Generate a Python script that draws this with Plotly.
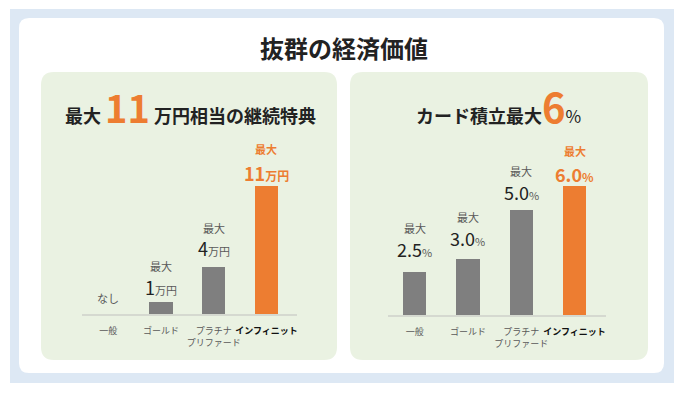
import plotly.graph_objects as go

# ---- data ----
categories = ["一般", "ゴールド", "プラチナプリファード", "インフィニット"]
tick_labels = ["一般", "ゴールド", "プラチナ<br>プリファード", "インフィニット"]
benefit_values = [0, 1, 4, 11]          # 万円
benefit_labels = ["なし", "1", "4", "11"]
benefit_unit = "万円"
points_values = [2.5, 3.0, 5.0, 6.0]    # %
points_labels = ["2.5", "3.0", "5.0", "6.0"]
points_unit = "%"
prefix = "最大"

main_title = "抜群の経済価値"
left_title = ("最大", "11", "万円相当の継続特典")
right_title = ("カード積立最大", "6", "%")

# ---- styles ----
W, H = 687, 393
FONT = "Noto Sans CJK JP"
ORANGE = "#ED7D31"
GRAY_BAR = "#7F7F7F"
BLUE_BG = "#DDE8F4"
GREEN_BG = "#EAF2E2"
TXT = "#222222"
LBL = "#595959"
# label offsets above the bar tops (px): (value line, prefix line)
LEFT_GAPS = [(16, 0), (15, 36), (19, 39), (13, 37)]
RIGHT_GAPS = [(23, 44), (21, 42), (18, 39), (12, 35)]

def fx(x):
    return x / W

def fy(y):
    return 1 - y / H

def rrect(x0, y0, x1, y1, r, color):
    pts = [
        ("M", [(x0 + r, y0)]), ("L", [(x1 - r, y0)]), ("Q", [(x1, y0), (x1, y0 + r)]),
        ("L", [(x1, y1 - r)]), ("Q", [(x1, y1), (x1 - r, y1)]), ("L", [(x0 + r, y1)]),
        ("Q", [(x0, y1), (x0, y1 - r)]), ("L", [(x0, y0 + r)]), ("Q", [(x0, y0), (x0 + r, y0)]),
    ]
    path = ""
    for cmd, ps in pts:
        path += cmd + " " + " ".join(f"{fx(a):.5f},{fy(b):.5f}" for a, b in ps) + " "
    path += "Z"
    return dict(type="path", xref="paper", yref="paper", path=path,
                fillcolor=color, line=dict(width=0), layer="below")

fig = go.Figure()

bar_colors = [GRAY_BAR, GRAY_BAR, GRAY_BAR, ORANGE]

fig.add_trace(go.Bar(x=categories, y=benefit_values, marker=dict(color=bar_colors, line=dict(width=0)),
                     width=0.44, xaxis="x", yaxis="y", hoverinfo="skip", showlegend=False))
fig.add_trace(go.Bar(x=categories, y=points_values, marker=dict(color=bar_colors, line=dict(width=0)),
                     width=0.44, xaxis="x2", yaxis="y2", hoverinfo="skip", showlegend=False))

ticktext = []
for i, t in enumerate(tick_labels):
    if i == len(tick_labels) - 1:
        ticktext.append(f"<span style='color:#111111'><b>{t}</b></span>")
    else:
        ticktext.append(t)

xcommon = dict(type="category", categoryorder="array", categoryarray=categories,
               tickvals=categories, ticktext=ticktext, showline=True, linecolor="#D5D9D0",
               linewidth=2, showgrid=False, zeroline=False, ticks="", ticklabelstandoff=7,
               tickangle=0, automargin=False,
               tickfont=dict(family=FONT, size=9, color=LBL), fixedrange=True)

fig.update_layout(
    width=W, height=H, margin=dict(l=0, r=0, t=0, b=0),
    paper_bgcolor="white", plot_bgcolor="rgba(0,0,0,0)",
    font=dict(family=FONT),
    bargap=0,
    xaxis=dict(domain=[fx(82), fx(297)], range=[-0.5, 3.58], anchor="y", **xcommon),
    yaxis=dict(domain=[fy(314), fy(140)], range=[0, 174 / 11.65], visible=False, anchor="x"),
    xaxis2=dict(domain=[fx(388), fx(606)], range=[-0.5, 3.59], anchor="y2", **xcommon),
    yaxis2=dict(domain=[fy(315), fy(140)], range=[0.73, 0.73 + 175 / 24.5], visible=False, anchor="x2"),
    shapes=[
        dict(type="rect", xref="paper", yref="paper", x0=fx(10), x1=fx(674), y0=fy(383), y1=fy(9),
             fillcolor=BLUE_BG, line=dict(width=0), layer="below"),
        rrect(19, 18, 664, 373, 10, "white"),
        rrect(41, 72, 337, 360, 13, GREEN_BG),
        rrect(350, 72, 648, 360, 13, GREEN_BG),
    ],
)

ann = []
# main title
ann.append(dict(xref="paper", yref="paper", x=fx(344), y=fy(47), xanchor="center", yanchor="middle",
                text=f"<b>{main_title}</b>", showarrow=False,
                font=dict(family=FONT, size=24, color=TXT)))
# left panel title
ann.append(dict(xref="paper", yref="paper", x=fx(190), y=fy(106), xanchor="center", yanchor="middle",
                text=(f"<b>{left_title[0]} </b><b><span style='font-size:38px;color:{ORANGE}'>{left_title[1]}</span></b>"
                      f"<b> {left_title[2]}</b>"),
                showarrow=False, font=dict(family=FONT, size=18, color=TXT)))
# right panel title
ann.append(dict(xref="paper", yref="paper", x=fx(499), y=fy(106), xanchor="center", yanchor="middle",
                text=(f"<b>{right_title[0]}</b><b><span style='font-size:40px;color:{ORANGE}'>{right_title[1]}</span></b>"
                      f"<span style='font-size:17px'>{right_title[2]}</span>"),
                showarrow=False, font=dict(family=FONT, size=18, color=TXT)))

def bar_labels(xr, yr, vals, labels, unit, base, gaps):
    n = len(vals)
    for i, (c, v, lab) in enumerate(zip(categories, vals, labels)):
        last = i == n - 1
        col = ORANGE if last else TXT
        y = max(v, base)
        g_val, g_pre = gaps[i]
        if v == 0:
            ann.append(dict(xref=xr, yref=yr, x=c, y=y, yshift=g_val, xanchor="center", yanchor="middle",
                            text=lab, showarrow=False, font=dict(family=FONT, size=11, color=LBL)))
            continue
        if last:
            vtxt = f"<b>{lab}<span style='font-size:12px'>{unit}</span></b>"
            ptxt = f"<b>{prefix}</b>"
            pcol = ORANGE
        else:
            vtxt = f"{lab}<span style='font-size:11px;color:{LBL}'>{unit}</span>"
            ptxt = prefix
            pcol = LBL
        ann.append(dict(xref=xr, yref=yr, x=c, y=y, yshift=g_val, xanchor="center", yanchor="middle",
                        text=vtxt, showarrow=False, font=dict(family=FONT, size=18, color=col)))
        ann.append(dict(xref=xr, yref=yr, x=c, y=y, yshift=g_pre, xanchor="center", yanchor="middle",
                        text=ptxt, showarrow=False, font=dict(family=FONT, size=11, color=pcol)))

bar_labels("x", "y", benefit_values, benefit_labels, benefit_unit, 0, LEFT_GAPS)
bar_labels("x2", "y2", points_values, points_labels, points_unit, 0.73, RIGHT_GAPS)

fig.update_layout(annotations=ann)
fig.write_html("out.html", config={"displayModeBar": False},
               post_script="document.body.style.margin='0';document.body.style.overflow='hidden';")
